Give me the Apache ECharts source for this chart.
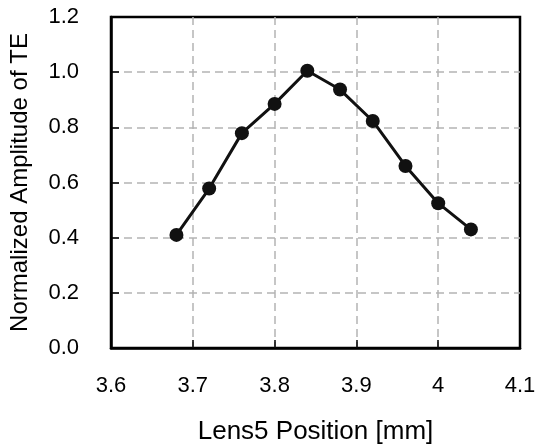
<html>
<head>
<meta charset="utf-8" />
<script src='https://cdn.jsdelivr.net/npm/echarts@6/dist/echarts.min.js'></script>
<style type="text/css">
	html, body, #main {
	width: 100%;
	height: 100%;
	margin: 0;
	background: #fff;
}
</style>
</head>
<body>
	<div id='main'></div>
	<script>
		var chart = echarts.init(document.getElementById('main'));

		// lens position [mm] and normalized TE amplitude
		var positions = [3.68, 3.72, 3.76, 3.80, 3.84, 3.88, 3.92, 3.96, 4.00, 4.04];
		var amplitudes = [0.41, 0.578, 0.779, 0.885, 1.005, 0.937, 0.823, 0.66, 0.525, 0.43];

		var data = [];
		for (var i = 0; i < positions.length; i++) {
			data.push([positions[i], amplitudes[i]]);
		}

		var font = 'Liberation Sans';
		var gridLine = {
			show : true, showMinLine : false, showMaxLine : false,
			lineStyle : { color : '#b4b4b4', type : [8, 5], width : 1.5 }
		};

		var option = {
			animation : false,
			grid : {
				left : 111, top : 17, right : 16, bottom : 99,
				show : true, borderColor : '#000', borderWidth : 2.5,
				containLabel : false, outerBoundsMode : 'none'
			},
			xAxis : {
				type : 'value', min : 3.6, max : 4.1, interval : 0.1,
				name : 'Lens5 Position [mm]', nameLocation : 'middle', nameGap : 71,
				nameTextStyle : { fontFamily : font, fontSize : 26, color : '#000' },
				axisLine : { lineStyle : { color : '#000', width : 2.5 } },
				axisTick : { inside : true, length : 8, lineStyle : { color : '#000', width : 1.5 } },
				axisLabel : { margin : 27, fontFamily : font, fontSize : 22, color : '#000' },
				splitLine : gridLine
			},
			yAxis : {
				type : 'value', min : 0, max : 1.2, interval : 0.2,
				name : 'Normalized Amplitude of TE', nameLocation : 'middle', nameGap : 79,
				nameTextStyle : { fontFamily : font, fontSize : 24, color : '#000' },
				axisLine : { lineStyle : { color : '#000', width : 2.5 } },
				axisTick : { inside : true, length : 8, lineStyle : { color : '#000', width : 1.5 } },
				axisLabel : {
					margin : 32, fontFamily : font, fontSize : 22, color : '#000',
					formatter : function (v) { return v.toFixed(1); }
				},
				splitLine : gridLine
			},
			series : [ {
				type : 'line',
				data : data,
				symbol : 'circle',
				symbolSize : 14,
				itemStyle : { color : '#111' },
				lineStyle : { color : '#111', width : 3 }
			} ]
		};

		chart.setOption(option);

		window.onresize = function() {
			chart.resize();
		}
	</script>
</body>
</html>
